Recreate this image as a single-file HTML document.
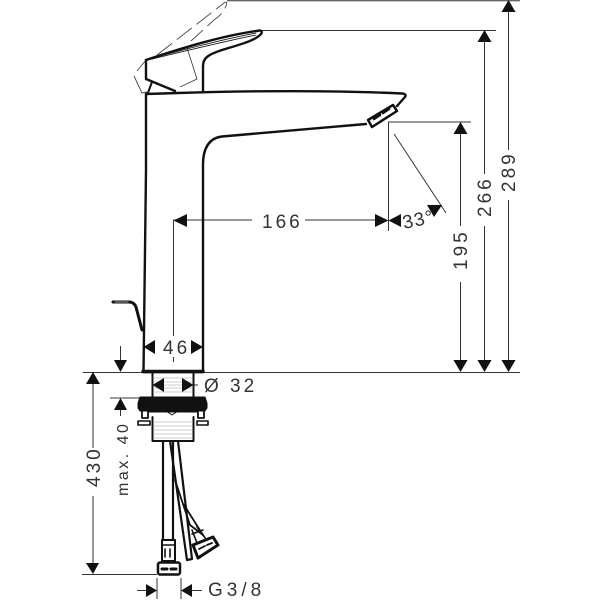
<!DOCTYPE html>
<html><head><meta charset="utf-8"><style>
html,body{margin:0;padding:0;background:#fff}
svg{display:block}
text{font-family:"Liberation Sans",sans-serif;font-size:19px;fill:#333;letter-spacing:3px}
</style></head><body>
<svg width="600" height="600" viewBox="0 0 600 600" xmlns="http://www.w3.org/2000/svg">
<!-- dimension lines -->
<g fill="none" stroke="#333" stroke-width="1">
<path d="M227 .7H520M262 30.500H496M388 122H471M83 372.500H143M203 372.500H520M110 398H150M82 574.500H157"/>
<path d="M508.500 5V150M508.500 200V368M484.500 36V174M484.500 226V368M460.500 128V226M460.500 282V368"/>
<path d="M388.500 122V231M173.500 220V336M173.500 357V362M173.500 220H252M305 220H380M394 134L446 213"/>
<path d="M93 378V448M93 496V570M120.500 346V362M120.500 405V416M157 578V599M181 578V599M137 590.500H150M188 590.500H202"/>
<path d="M193 385H198"/>
</g>
<!-- dashed swing outline -->
<g fill="none" stroke="#444" stroke-width="0.9">
<path d="M157 55L224 3Q228 0 226 6Q222 15 214 20L191 41" stroke-dasharray="19 6"/>
<path d="M146 60L137 71M134 76L142 93 147 92"/>
<path d="M187 48L197 79 180 87"/>
</g>
<!-- handle -->
<g fill="none" stroke="#111" stroke-linejoin="round" stroke-linecap="round">
<path d="M146 60C185 47 225 35 260 30.500Q263 31 261 34C255 41 238 45 222 50C210 54 203 57 203 66V91" stroke-width="2.400"/>
<path d="M146 60C175 52 215 41 256 33" stroke-width="0.800"/>
<path d="M148 60C177 53 217 43 256 35" stroke-width="0.800"/>
<path d="M146 60V79L175 91" stroke-width="2.400"/>
<path d="M152 82L147.500 94" stroke-width="2"/>
<!-- body -->
<path d="M146 94L178 93C250 90.500 340 90.500 402 93.500Q407 94 405 97L397 106" stroke-width="2.400"/>
<path d="M146 94V170L143.500 372H203V165C203 147 210 138 222 136.500L366 124" stroke-width="2.400"/>
<path d="M143 371.500H203" stroke-width="3.500"/>
<!-- aerator -->
<path d="M368 120L393 105 397 111 372 127Z" stroke-width="2.500"/>
<path d="M374 119L380 115M383 113L389 109" stroke-width="2.500"/>
<!-- lever -->
<path d="M113 302H129Q134 302 136 307L142 330" stroke-width="3"/>
<path d="M115 302H128" stroke="#ccc" stroke-width="0.800"/>
<!-- neck -->
<path d="M152.500 373V397M193.500 373V397" stroke-width="2"/>
<path d="M153 378H193M153 382H193M153 385H193M153 388H193M153 392H193" stroke="#999" stroke-width="0.600"/>
<!-- black disk -->
<path d="M140 397H205L207 403V408L205 411H140L138 408V403Z" fill="#111" stroke-width="1"/>
<!-- feet -->
<path d="M142 411V418H148V411M198 411V418H204V411" stroke-width="1.800"/>
<path d="M138 421H150V425H138ZM197 421H208V425H197Z" stroke-width="1.600"/>
<path d="M148 412H198" stroke-width="1"/>
<path d="M152.500 417V441H193.500V417" stroke-width="2"/>
<path d="M153 422H193M153 426H193M153 430H193M153 434H193M153 438H193" stroke="#999" stroke-width="0.600"/>
<path d="M166 411L172 415 178 411" stroke-width="1"/>
<!-- hoses -->
<path d="M163 441V540M173 441V540" stroke-width="2.200"/>
<path d="M170 441L187 560 192 559 178 441" stroke-width="2.200"/>
<path d="M175 480L190 525M184 505L203 535" stroke-width="1.800"/>
<path d="M190 525L203 535" stroke-width="1.800"/>
<path d="M192 530L197 543M197 527L206 539M192 534L203 530" stroke-width="1.600"/>
<path d="M193 545L213 537 218 545 198 558Z" stroke-width="3"/>
<path d="M199 549L205 546M207 545L212 543" stroke-width="1.800"/>
<path d="M162 540H175L175 561H162Z" stroke-width="2"/>
<path d="M162 545H175M165 549V557M170 549V557" stroke-width="1.600"/>
<rect x="158" y="562.500" width="22" height="12" rx="2" stroke-width="2.500"/>
<path d="M162 569H167M171 569H176" stroke-width="3"/>
</g>
<!-- arrowheads -->
<g fill="#111">
<path d="M508.500 0L501.500 12H515.500ZM484.500 30L477.500 42H491.500ZM460.500 122L453.500 134H467.500ZM508.500 372L501.500 360H515.500ZM484.500 372L477.500 360H491.500ZM460.500 372L453.500 360H467.500Z"/>
<path d="M173.500 220.500L187 214V227ZM388.500 220.500L375 214V227ZM388.500 220.500L401 214V227Z"/>
<path d="M143.500 347L155 340V354ZM203 347L191 340V354ZM152.500 385L164 378V392ZM193.500 385L182 378V392Z"/>
<path d="M120.500 372L114 360H127ZM93 372L86 384H100ZM93 574L86 563H99ZM120.500 398L114 410H127Z"/>
<path d="M157 590.500L146 584V597ZM181 590.500L192 584V597Z"/>
<path d="M427 205H442L434 217Z"/>
</g>
<!-- labels -->
<g>
<text x="262" y="228">166</text>
<text x="163" y="354">46</text>
<text x="204" y="392" style="letter-spacing:3px">Ø 32</text>
<text x="208" y="596" style="letter-spacing:4px">G3/8</text>
<text transform="translate(467 270) rotate(-90)">195</text>
<text transform="translate(491 217) rotate(-90)">266</text>
<text transform="translate(515 192) rotate(-90)">289</text>
<text transform="translate(100 487) rotate(-90)">430</text>
<text transform="translate(128 496) rotate(-90)" style="font-size:16px;letter-spacing:2.500px">max. 40</text>
<text transform="translate(404 229) rotate(-12)" style="letter-spacing:1px">33°</text>
</g>
</svg>
</body></html>
